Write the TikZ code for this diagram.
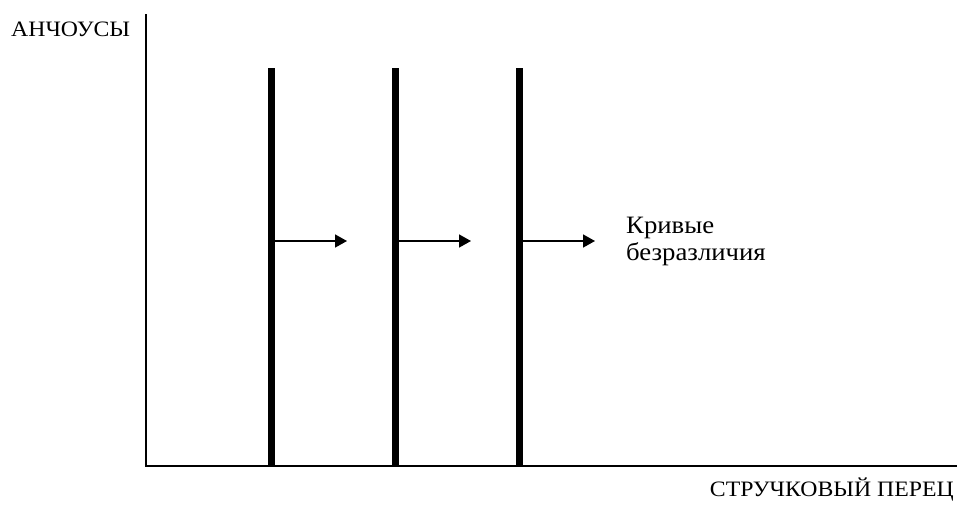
\documentclass[tikz,border=0pt]{standalone}
\usepackage{fontspec}
\setmainfont{Liberation Serif}
\newfontfamily\axisfont[FakeStretch=1.08]{Liberation Serif}
\newfontfamily\notefont[FakeStretch=1.07]{Liberation Serif}
\usetikzlibrary{arrows.meta}
\begin{document}
\begin{tikzpicture}[x=1pt,y=-1pt,
  axisline/.style={line width=1.8pt},
  curve/.style={line width=7.5pt},
  shift arrow/.style={line width=1.6pt,-{Triangle[length=12pt,width=13pt]}},
  axislbl/.style={font=\axisfont\fontsize{22}{26}\selectfont,inner sep=0pt},
  notelbl/.style={font=\notefont\fontsize{25}{26.5}\selectfont,inner sep=0pt}]
  \useasboundingbox (0,0) rectangle (959,504);
  % axes
  \coordinate (top) at (146,14);
  \coordinate (origin) at (146,466);
  \coordinate (right) at (957,466);
  \draw[axisline] (top) -- (origin) -- (right);
  % axis labels
  \node[axislbl,anchor=base west] (ylab) at (11,36.5) {АНЧОУСЫ};
  \node[axislbl,anchor=base east] (xlab) at (954,496.5) {СТРУЧКОВЫЙ ПЕРЕЦ};
  % indifference curves (vertical lines) with shift arrows
  \foreach \i/\x in {1/271.5,2/395.5,3/519.5}{
    \coordinate (c\i t) at (\x,68);
    \coordinate (c\i b) at (\x,466);
    \coordinate (c\i m) at (\x+3.75,241);
    \coordinate (a\i) at (\x+75.5,241);
    \draw[curve] (c\i t) -- (c\i b);
    \draw[shift arrow] (c\i m) -- (a\i);
  }
  % label (base anchor sits on the last line)
  \node[notelbl,anchor=base west,align=left] (note) at (626,260) {Кривые\\безразличия};
\end{tikzpicture}
\end{document}
